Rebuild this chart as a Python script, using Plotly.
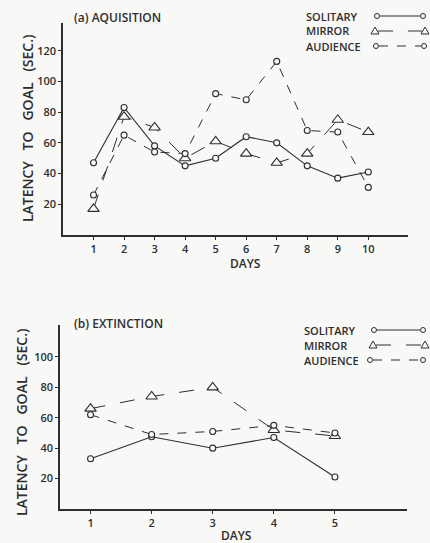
import plotly.graph_objects as go

# ---- data ----
acq_days = [1, 2, 3, 4, 5, 6, 7, 8, 9, 10]
acq_solitary = [47, 83, 58, 45, 50, 64, 60, 45, 37, 41]
acq_mirror = [17, 77, 70, 50, 61, 53, 47, 53, 75, 67]
acq_audience = [26, 65, 54, 53, 92, 88, 113, 68, 67, 31]

ext_days = [1, 2, 3, 4, 5]
ext_solitary = [33, 47.5, 40, 47, 21]
ext_mirror = [66, 74, 80, 52, 48]
ext_audience = [62, 49, 51, 55, 50]

series_names = ["SOLITARY", "MIRROR", "AUDIENCE"]
acq_ticks = [20, 40, 60, 80, 100, 120]
ext_ticks = [20, 40, 60, 80, 100]

W, H = 430, 543
INK = "#2e2e2e"
BG = "#f8f8f6"
FONT = "Open Sans"
WEIGHT = 600

styles = {
    "SOLITARY": dict(dash="solid", symbol="circle", size=6, width=1.1),
    "MIRROR": dict(dash="longdash", symbol="triangle-up", size=10, width=1.0),
    "AUDIENCE": dict(dash="dash", symbol="circle", size=6, width=1.0),
}

fig = go.Figure()

def add_panel(days, vals, xa, ya):
    for name, v in zip(series_names, vals):
        s = styles[name]
        fig.add_trace(go.Scatter(
            x=days, y=v, mode="lines+markers", name=name, showlegend=False,
            xaxis=xa, yaxis=ya, hoverinfo="skip",
            line=dict(color=INK, width=s["width"], dash=s["dash"]),
            marker=dict(symbol=s["symbol"], size=s["size"], color=BG,
                        line=dict(color=INK, width=1.1)),
        ))

add_panel(acq_days, [acq_solitary, acq_mirror, acq_audience], "x", "y")
add_panel(ext_days, [ext_solitary, ext_mirror, ext_audience], "x2", "y2")

def px(x):
    return x / W

def py(y):
    return 1 - y / H

axis_common = dict(showline=True, linecolor=INK, linewidth=1.5, ticks="outside",
                   ticklen=3, tickcolor=INK, tickwidth=1.2, showgrid=False,
                   zeroline=False,
                   tickfont=dict(family=FONT, size=11, color=INK, weight=WEIGHT))

fig.update_layout(
    width=W, height=H, margin=dict(l=0, r=0, t=0, b=0),
    paper_bgcolor=BG, plot_bgcolor=BG,
    font=dict(family=FONT, color=INK),
    xaxis=dict(domain=[px(63), px(408)], range=[0, 11.3], anchor="y",
               tickvals=acq_days, ticktext=[str(d) for d in acq_days],
               **axis_common),
    yaxis=dict(domain=[py(235), py(23)], range=[0, 138], anchor="x",
               tickvals=acq_ticks, **axis_common),
    xaxis2=dict(domain=[px(60), px(407)], range=[0.5, 6.18], anchor="y2",
                tickvals=ext_days, ticktext=[str(d) for d in ext_days],
                **axis_common),
    yaxis2=dict(domain=[py(509), py(325)], range=[0, 121], anchor="x2",
                tickvals=ext_ticks, **axis_common),
)

YTITLE = "LATENCY   TO   GOAL   (SEC.)"
annotations = [
    dict(text="(a) AQUISITION", x=px(72), y=py(17), xanchor="left", yanchor="middle",
         font=dict(size=12)),
    dict(text="(b) EXTINCTION", x=px(72), y=py(323), xanchor="left", yanchor="middle",
         font=dict(size=12)),
    dict(text="DAYS", x=px(245), y=py(263), xanchor="center", yanchor="middle",
         font=dict(size=12)),
    dict(text="DAYS", x=px(237), y=py(535), xanchor="center", yanchor="middle",
         font=dict(size=12)),
    dict(text=YTITLE, x=px(27), y=py(128), xanchor="center", yanchor="middle",
         textangle=-90, font=dict(size=14)),
    dict(text=YTITLE, x=px(21), y=py(422), xanchor="center", yanchor="middle",
         textangle=-90, font=dict(size=14)),
]

shapes = []

def legend_block(text_x, rows):
    for name, ty, x0, x1 in rows:
        s = styles[name]
        annotations.append(dict(text=name, x=px(text_x), y=py(ty), xanchor="left",
                                yanchor="middle", font=dict(size=11)))
        shapes.append(dict(type="line", xref="paper", yref="paper",
                           x0=px(x0 + 3), x1=px(x1 - 3), y0=py(ty), y1=py(ty),
                           line=dict(color=INK, width=1, dash=s["dash"])))
        for cx in (x0, x1):
            if s["symbol"] == "circle":
                shapes.append(dict(type="circle", xref="paper", yref="paper",
                                   x0=px(cx - 2.5), x1=px(cx + 2.5),
                                   y0=py(ty + 2.5), y1=py(ty - 2.5),
                                   line=dict(color=INK, width=1), fillcolor=BG))
            else:
                path = "M {} {} L {} {} L {} {} Z".format(
                    px(cx - 4), py(ty + 3), px(cx + 4), py(ty + 3), px(cx), py(ty - 4))
                shapes.append(dict(type="path", xref="paper", yref="paper", path=path,
                                   line=dict(color=INK, width=1), fillcolor=BG))

legend_block(304, [("SOLITARY", 16, 377, 423), ("MIRROR", 31, 375, 425), ("AUDIENCE", 46, 376, 424)])
legend_block(302, [("SOLITARY", 330, 374, 423), ("MIRROR", 345, 373, 425), ("AUDIENCE", 360, 370, 423)])

for a in annotations:
    a.setdefault("xref", "paper")
    a.setdefault("yref", "paper")
    a.setdefault("showarrow", False)
    a["font"] = dict(family=FONT, color=INK, weight=WEIGHT, **a["font"])

fig.update_layout(annotations=annotations, shapes=shapes)

fig.write_html("out.html", config={"displayModeBar": False},
               post_script="document.body.style.margin='0px';document.body.style.background='%s';" % BG)
